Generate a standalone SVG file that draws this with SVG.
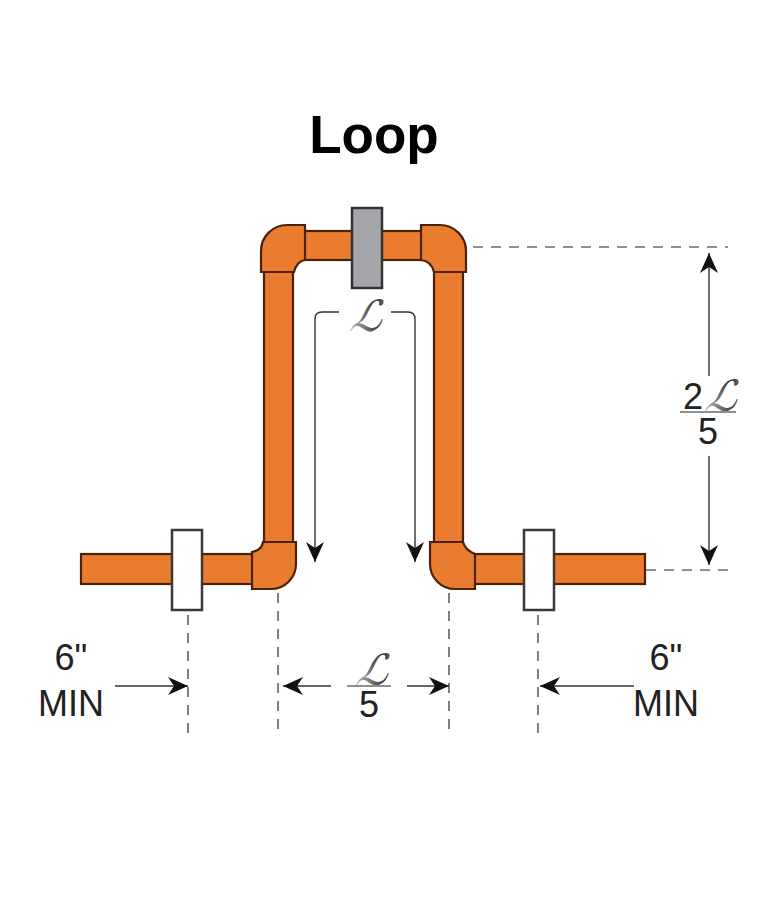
<svg xmlns="http://www.w3.org/2000/svg" width="768" height="900" viewBox="0 0 768 900">
<style>
.pipe{fill:#e97c2e;stroke:#4a2208;stroke-width:2.2;stroke-linejoin:miter}
.cl{fill:#fff;stroke:#3a3a3a;stroke-width:2.5}
.gr{fill:#a5a7aa;stroke:#333;stroke-width:2.5}
.dash{fill:none;stroke:#6a6a6a;stroke-width:1.7;stroke-dasharray:10 8}
.dim{fill:none;stroke:#333;stroke-width:1.4}
.frac{stroke:#8e8e8e;stroke-width:2.2}
.t{font-family:"Liberation Sans",Arial,sans-serif;fill:#222;text-anchor:middle;font-size:36px}
.l{font-family:"DejaVu Serif","DejaVu Sans",serif;fill:url(#lg);text-anchor:middle;font-size:43px}
</style>
<defs>
<linearGradient id="lg" x1="0" y1="1" x2="1" y2="0">
<stop offset="0.15" stop-color="#bdbdbd"/><stop offset="0.6" stop-color="#333"/><stop offset="1" stop-color="#999"/>
</linearGradient>
<marker id="ah" viewBox="0 0 20 18" refX="20" refY="9" markerWidth="21" markerHeight="18" markerUnits="userSpaceOnUse" orient="auto-start-reverse">
<path d="M20 9 L0 0 L6 9 L0 18 Z" fill="#111"/>
</marker>
</defs>
<rect width="768" height="900" fill="#fff"/>
<text id="title" x="374" y="153" font-family="Liberation Sans,Arial,sans-serif" font-weight="700" font-size="53" text-anchor="middle" fill="#000">Loop</text>
<g id="connectors">
<path class="dash" d="M473 247H728"/>
<path class="dash" d="M646 570H730"/>
<path class="dash" d="M188 615V735"/>
<path class="dash" d="M278 593V735"/>
<path class="dash" d="M449 593V735"/>
<path class="dash" d="M538 615V735"/>
<path class="dim" d="M709 376V253" marker-end="url(#ah)"/>
<path class="dim" d="M709 456V565" marker-end="url(#ah)"/>
<path class="dim" d="M339 312H322Q315 312 315 319V562" marker-end="url(#ah)"/>
<path class="dim" d="M391 312H408Q415 312 415 319V562" marker-end="url(#ah)"/>
<path class="dim" d="M115 686H188" marker-end="url(#ah)"/>
<path class="dim" d="M331 686H283" marker-end="url(#ah)"/>
<path class="dim" d="M407 686H449" marker-end="url(#ah)"/>
<path class="dim" d="M634 686H540" marker-end="url(#ah)"/>
</g>
<g id="pipe-left-lower"><rect class="pipe" x="81" y="554" width="172" height="30"/></g>
<g id="pipe-right-lower"><rect class="pipe" x="474" y="554" width="171" height="30"/></g>
<g id="pipe-top"><rect class="pipe" x="304" y="231" width="118" height="29"/></g>
<g id="pipe-left-riser"><rect class="pipe" x="264" y="270" width="29" height="274"/></g>
<g id="pipe-right-riser"><rect class="pipe" x="434" y="270" width="29" height="274"/></g>
<g id="elbow-top-left"><path class="pipe" d="M261 272V251A26 26 0 0 1 287 225H305V260Q297 261 294 272Z"/></g>
<g id="elbow-top-right"><path class="pipe" d="M421 225H440A26 26 0 0 1 466 251V272H434Q431 261 421 260Z"/></g>
<g id="elbow-bottom-left"><path class="pipe" d="M252 589H271A25 25 0 0 0 296 564V542H263Q262 550 252 552Z"/></g>
<g id="elbow-bottom-right"><path class="pipe" d="M475 589H455A25 25 0 0 1 430 564V542H463Q465 550 475 554Z"/></g>
<g id="guide-top"><rect class="gr" x="352" y="208" width="30" height="80"/></g>
<g id="clamp-left"><rect class="cl" x="172" y="530" width="30" height="80"/></g>
<g id="clamp-right"><rect class="cl" x="524" y="530" width="30" height="80"/></g>
<g id="label-l"><text class="l" transform="translate(364 331) skewX(-24)">ℒ</text></g>
<g id="label-2l-5">
<text class="t" x="693" y="409">2</text>
<text class="l" transform="translate(719 411) skewX(-24)">ℒ</text>
<line class="frac" x1="680" y1="412" x2="736" y2="412"/>
<text class="t" x="708" y="444">5</text>
</g>
<g id="label-l-5">
<text class="l" transform="translate(370 685) skewX(-24)">ℒ</text>
<line class="frac" x1="347" y1="686" x2="391" y2="686"/>
<text class="t" x="369" y="717">5</text>
</g>
<g id="label-left"><text class="t" x="71" y="670">6"</text><text class="t" x="71" y="716">MIN</text></g>
<g id="label-right"><text class="t" x="666" y="670">6"</text><text class="t" x="666" y="716">MIN</text></g>
</svg>
